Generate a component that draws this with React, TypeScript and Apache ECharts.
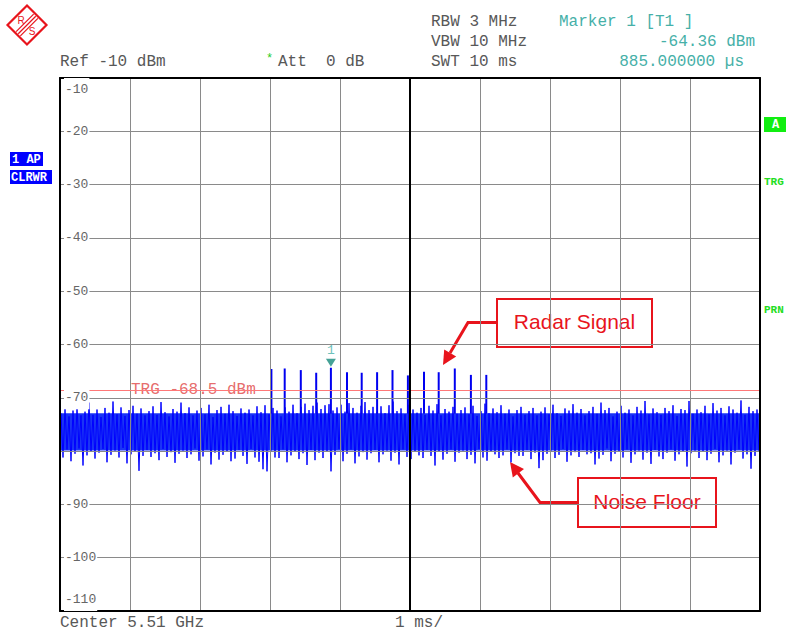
import React, { useEffect, useRef } from "react";
import * as echarts from "echarts";

// ---- Data ----
const sweepMs = 10; // 1 ms/div, 10 divisions
const refLevel = -10;
const bottomLevel = -110;
const levelStep = 10;
const hiddenTick = -80; // covered by the noise trace in the reference
const triggerLevel = -68.5;
const markerTime = 3.87;
const markerLevel = -64.36;

// noise floor: upper / lower excursion per bin (175 bins across the sweep), dBm
const noiseHigh = [
  -72.9, -72.1, -73.5, -72.4, -71.7, -73.3, -72.6, -70.9, -73.2, -72.2,
  -73.6, -71.9, -72.8, -70.7, -73.1, -71.8, -73.4, -72.3, -71.5, -73.0,
  -72.0, -73.3, -72.5, -71.6, -73.2, -70.8, -72.7, -73.5, -72.1, -72.6,
  -70.9, -72.9, -71.8, -73.3, -72.4, -71.9, -73.1, -71.3, -73.6, -72.3,
  -71.7, -73.0, -71.3, -72.5, -73.4, -72.0, -72.8, -72.2, -73.3, -71.6,
  -72.7, -71.4, -73.1, -71.9, -72.4, -73.5, -71.8, -72.6, -71.3, -72.9,
  -71.7, -71.1, -72.3, -71.5, -70.9, -72.1, -71.4, -71.2, -72.4, -71.8,
  -71.3, -72.6, -71.0, -71.9, -72.8, -71.5, -70.8, -72.3, -71.7, -72.7,
  -71.6, -72.9, -71.4, -70.7, -72.5, -72.0, -73.1, -71.3, -72.2, -72.8,
  -71.9, -73.2, -71.5, -72.4, -71.2, -73.3, -72.1, -72.6, -71.7, -73.0,
  -72.3, -71.8, -73.1, -71.5, -73.4, -72.5, -71.1, -72.9, -72.0, -72.7,
  -71.4, -73.0, -72.2, -73.5, -72.3, -71.7, -73.2, -72.5, -71.9, -73.3,
  -72.6, -71.8, -73.1, -71.3, -72.9, -73.4, -72.0, -72.4, -71.2, -72.8,
  -72.1, -73.3, -72.5, -71.7, -73.0, -70.9, -72.3, -71.9, -73.5, -72.6,
  -71.5, -72.8, -72.2, -73.3, -71.7, -72.4, -70.6, -73.1, -72.0, -72.7,
  -73.2, -71.9, -72.5, -71.4, -73.4, -72.1, -72.3, -70.6, -73.0, -72.2,
  -72.7, -71.5, -73.1, -71.0, -72.4, -71.9, -73.3, -71.6, -72.2, -72.8,
  -70.5, -73.2, -71.7, -72.5, -72.2,
];
const noiseLow = [
  -81.2, -79.7, -81.9, -80.5, -79.5, -82.7, -80.8, -80.0, -81.4, -80.3,
  -79.6, -82.1, -80.7, -79.9, -81.2, -79.4, -82.3, -80.6, -80.1, -83.7,
  -80.9, -79.8, -81.1, -80.4, -81.7, -79.6, -81.1, -80.2, -82.2, -80.5,
  -79.9, -81.3, -80.6, -79.5, -81.8, -81.0, -79.7, -82.5, -80.3, -81.6,
  -80.7, -80.1, -81.9, -81.4, -79.8, -80.9, -82.4, -79.6, -81.2, -82.0,
  -83.4, -83.8, -79.9, -81.2, -81.3, -79.7, -82.1, -80.8, -80.0, -81.5,
  -80.4, -82.6, -79.8, -81.7, -80.3, -81.3, -80.1, -83.8, -80.7, -79.6,
  -81.9, -80.5, -79.7, -82.3, -81.0, -80.2, -81.6, -80.4, -79.8, -82.1,
  -80.6, -79.9, -81.8, -80.3, -82.5, -79.7, -81.1, -81.5, -80.0, -80.8,
  -81.3, -79.8, -80.9, -82.7, -80.1, -81.6, -80.5, -79.7, -82.0, -80.3,
  -79.9, -81.5, -80.7, -82.3, -79.6, -81.2, -81.8, -80.1, -80.6, -81.3,
  -80.8, -79.7, -82.1, -80.4, -80.9, -80.9, -79.8, -81.5, -80.3, -83.2,
  -81.7, -80.5, -79.9, -81.3, -80.7, -79.6, -82.0, -80.8, -80.2, -81.1,
  -79.8, -80.6, -80.4, -82.5, -81.4, -80.7, -79.5, -81.9, -80.5, -80.1,
  -81.2, -79.7, -82.2, -80.6, -79.9, -81.6, -80.3, -82.4, -79.8, -81.0,
  -81.5, -80.3, -79.7, -81.8, -80.6, -80.1, -82.9, -80.4, -79.9, -81.3,
  -80.0, -81.7, -80.5, -79.6, -82.1, -80.8, -79.9, -82.5, -80.3, -79.7,
  -81.4, -80.6, -83.3, -80.9, -80.1,
];
// dense core of the noise band (dBm)
const noiseCoreTop = -72.9;
const noiseCoreBottom = -79.9;

// radar pulses
const pulseTimes = [3.02, 3.21, 3.44, 3.66, 3.87, 4.1, 4.31, 4.53, 4.75, 4.97, 5.2, 5.41, 5.64, 5.87, 6.09];
const pulsePeaks = [-64.6, -64.5, -64.8, -65.3, -64.36, -65.2, -65.3, -65.2, -64.8, -65.8, -65.1, -65.2, -64.5, -65.7, -65.7];
const pulseBase = -73.0;

// ---- Styles ----
const GRID = "#8a8a8a";
const MONO = '"Liberation Mono", "DejaVu Sans Mono", monospace';
const SANS = '"Liberation Sans", Arial, sans-serif';
const HDR = "#585858";
const TEAL = "#46b0a8";
const RED = "#e8141c";

export default function App() {
  const ref = useRef<HTMLDivElement>(null);

  useEffect(() => {
    document.body.style.margin = "0";
    if (!ref.current) return;
    const chart = echarts.init(ref.current, null, { renderer: "svg" });

    const nBins = noiseHigh.length;
    const dt = sweepMs / nBins;
    const trace: number[][] = [];
    for (let i = 0; i < nBins; i++) {
      trace.push([(i + 0.25) * dt, noiseHigh[i]]);
      trace.push([(i + 0.75) * dt, noiseLow[i]]);
    }
    const pulses = pulseTimes.map((t, i) => [t, pulsePeaks[i]]);

    const hdr = (text: string, x: number, y: number, fill = HDR, align = "left", size = 16) => ({
      type: "text",
      x,
      y,
      silent: true,
      style: {
        text,
        fill,
        font: `${size}px ${MONO}`,
        textAlign: align,
        textVerticalAlign: "middle",
      },
    });

    // logo stripe geometry
    const lc = [27, 25];
    const half = 19.5;
    const stripes = [-3, 0, 3].map((d) => {
      const s = d / Math.SQRT2;
      return {
        type: "line",
        silent: true,
        shape: {
          x1: lc[0] + half / 2 + s - 1,
          y1: lc[1] - half / 2 + s + 1,
          x2: lc[0] - half / 2 + s + 1,
          y2: lc[1] + half / 2 + s - 1,
        },
        style: { stroke: RED, lineWidth: 1.2 },
      };
    });

    const option: any = {
      animation: false,
      backgroundColor: "#ffffff",
      grid: { left: 60, right: 26, top: 78, bottom: 21, show: false },
      xAxis: [
        {
          type: "value",
          min: 0,
          max: sweepMs,
          interval: 1,
          z: 5,
          axisLine: { show: true, onZero: false, lineStyle: { color: "#000", width: 2 } },
          axisTick: { show: false },
          axisLabel: { show: false },
          splitLine: { show: true, lineStyle: { color: GRID, width: 1 } },
        },
        {
          type: "value",
          position: "top",
          min: 0,
          max: sweepMs,
          z: 5,
          axisLine: { show: true, onZero: false, lineStyle: { color: "#000", width: 2 } },
          axisTick: { show: false },
          axisLabel: { show: false },
          splitLine: { show: false },
        },
      ],
      yAxis: [
        {
          type: "value",
          min: bottomLevel,
          max: refLevel,
          interval: levelStep,
          z: 5,
          axisLine: { show: true, onZero: false, lineStyle: { color: "#000", width: 2 } },
          axisTick: { show: false },
          splitLine: { show: true, lineStyle: { color: GRID, width: 1 } },
          axisLabel: {
            inside: true,
            margin: 4,
            color: "#666",
            fontFamily: MONO,
            fontSize: 13,
            verticalAlignMinLabel: "bottom",
            verticalAlignMaxLabel: "top",
            formatter: (v: number) => (v === hiddenTick ? `{h|${v}}` : `{t|${v}}`),
            rich: {
              t: {
                color: "#666",
                fontFamily: MONO,
                fontSize: 13,
                backgroundColor: "#ffffff",
                padding: [5, 1, 5, 1],
              },
              h: {
                color: "rgba(0,0,0,0)",
                fontFamily: MONO,
                fontSize: 13,
                padding: [5, 1, 5, 1],
              },
            },
          },
        },
        {
          type: "value",
          position: "right",
          min: bottomLevel,
          max: refLevel,
          z: 5,
          axisLine: { show: true, onZero: false, lineStyle: { color: "#000", width: 2 } },
          axisTick: { show: false },
          axisLabel: { show: false },
          splitLine: { show: false },
        },
      ],
      series: [
        {
          type: "line",
          name: "trace",
          data: trace,
          showSymbol: false,
          symbol: "none",
          z: 2,
          lineStyle: { color: "#0000ff", width: 1 },
          silent: true,
          markArea: {
            silent: true,
            itemStyle: { color: "#1a34f6" },
            data: [[{ xAxis: 0, yAxis: noiseCoreTop }, { xAxis: sweepMs, yAxis: noiseCoreBottom }]],
          },
        },
        {
          type: "custom",
          name: "pulses",
          z: 3,
          silent: true,
          data: pulses,
          renderItem: (_p: any, api: any) => {
            const top = api.coord([api.value(0), api.value(1)]);
            const bot = api.coord([api.value(0), pulseBase]);
            return {
              type: "line",
              shape: { x1: top[0], y1: top[1], x2: bot[0], y2: bot[1] },
              style: { stroke: "#0000f0", lineWidth: 2 },
            };
          },
        },
        {
          type: "scatter",
          name: "trigger",
          z: 4,
          silent: true,
          symbolSize: 0,
          data: [[1.0, triggerLevel]],
          label: {
            show: true,
            position: "right",
            distance: 0,
            formatter: `TRG ${triggerLevel} dBm`,
            color: "#e04646",
            fontFamily: MONO,
            fontSize: 16,
            backgroundColor: "#ffffff",
            padding: [0, 1],
          },
          markLine: {
            silent: true,
            symbol: ["none", "none"],
            label: { show: false },
            lineStyle: { color: "#ff7878", width: 1, type: "solid" },
            data: [{ yAxis: triggerLevel }],
          },
        },
        {
          type: "scatter",
          name: "marker",
          z: 6,
          silent: true,
          symbol: "triangle",
          symbolRotate: 180,
          symbolSize: [10, 8],
          symbolOffset: [0, -5],
          itemStyle: { color: "#17897c" },
          data: [[markerTime, markerLevel]],
          label: {
            show: true,
            position: "top",
            distance: 2,
            formatter: "1",
            color: TEAL,
            fontFamily: MONO,
            fontSize: 13,
          },
          markLine: {
            silent: true,
            symbol: ["none", "none"],
            label: { show: false },
            lineStyle: { color: "#000", width: 2, type: "solid" },
            data: [{ xAxis: sweepMs / 2 }],
          },
        },
      ],
      graphic: [
        // R&S logo
        {
          type: "polygon",
          silent: true,
          shape: { points: [[27, 5.5], [46.5, 25], [27, 44.5], [7.5, 25]] },
          style: { fill: "none", stroke: RED, lineWidth: 2.2 },
        },
        ...stripes,
        { type: "text", x: 21, y: 20, silent: true, style: { text: "R", fill: RED, font: `10px ${SANS}`, textAlign: "center", textVerticalAlign: "middle" } },
        { type: "text", x: 32, y: 31, silent: true, style: { text: "S", fill: RED, font: `10px ${SANS}`, textAlign: "center", textVerticalAlign: "middle" } },

        // header
        hdr("RBW 3 MHz", 431, 22),
        hdr("VBW 10 MHz", 431, 42),
        hdr("SWT 10 ms", 431, 62),
        hdr("Marker 1 [T1 ]", 559, 22, TEAL),
        hdr("-64.36 dBm", 755, 42, TEAL, "right"),
        hdr("885.000000 µs", 744, 62, TEAL, "right"),
        hdr("Ref -10 dBm", 60, 62),
        hdr("*", 266, 59, "#22cc22", "left", 12),
        hdr("Att  0 dB", 278, 62),

        // footer
        hdr("Center 5.51 GHz", 60, 623),
        hdr("1 ms/", 395, 623),

        // left status boxes
        { type: "rect", silent: true, shape: { x: 10, y: 152, width: 33, height: 14 }, style: { fill: "#0000ff" } },
        { type: "text", x: 12, y: 159.5, silent: true, style: { text: "1 AP", fill: "#fff", font: `bold 12px ${MONO}`, textVerticalAlign: "middle" } },
        { type: "rect", silent: true, shape: { x: 10, y: 170, width: 42, height: 14 }, style: { fill: "#0000ff" } },
        { type: "text", x: 11, y: 177.5, silent: true, style: { text: "CLRWR", fill: "#fff", font: `bold 12px ${MONO}`, textVerticalAlign: "middle" } },

        // right status
        { type: "rect", silent: true, shape: { x: 764, y: 117, width: 22, height: 15 }, style: { fill: "#11ee11" } },
        { type: "text", x: 772, y: 124.5, silent: true, style: { text: "A", fill: "#fff", font: `bold 12px ${MONO}`, textVerticalAlign: "middle" } },
        { type: "text", x: 764, y: 182, silent: true, style: { text: "TRG", fill: "#22dd22", font: `bold 11px ${MONO}`, textVerticalAlign: "middle" } },
        { type: "text", x: 764, y: 310, silent: true, style: { text: "PRN", fill: "#22dd22", font: `bold 11px ${MONO}`, textVerticalAlign: "middle" } },

        // annotation: Radar Signal
        { type: "polyline", silent: true, shape: { points: [[497, 322.5], [468, 322.5], [450, 353]] }, style: { stroke: RED, lineWidth: 3, fill: "none" } },
        { type: "polygon", silent: true, shape: { points: [[443, 365], [456.2, 356.6], [444.2, 349.4]] }, style: { fill: RED } },
        { type: "rect", silent: true, shape: { x: 497, y: 299, width: 155, height: 48 }, style: { fill: "#fff", stroke: RED, lineWidth: 2 } },
        { type: "text", x: 574.5, y: 321, silent: true, style: { text: "Radar Signal", fill: RED, font: `21px ${SANS}`, textAlign: "center", textVerticalAlign: "middle" } },

        // annotation: Noise Floor
        { type: "polyline", silent: true, shape: { points: [[578, 502.5], [540, 502.5], [518, 473]] }, style: { stroke: RED, lineWidth: 3, fill: "none" } },
        { type: "polygon", silent: true, shape: { points: [[510, 462], [524, 469], [512.8, 477.4]] }, style: { fill: RED } },
        { type: "rect", silent: true, shape: { x: 578, y: 478, width: 138, height: 49 }, style: { fill: "#fff", stroke: RED, lineWidth: 2 } },
        { type: "text", x: 647, y: 501, silent: true, style: { text: "Noise Floor", fill: RED, font: `21px ${SANS}`, textAlign: "center", textVerticalAlign: "middle" } },
      ],
    };

    chart.setOption(option);
    return () => chart.dispose();
  }, []);

  return <div ref={ref} style={{ width: 786, height: 632 }} />;
}
